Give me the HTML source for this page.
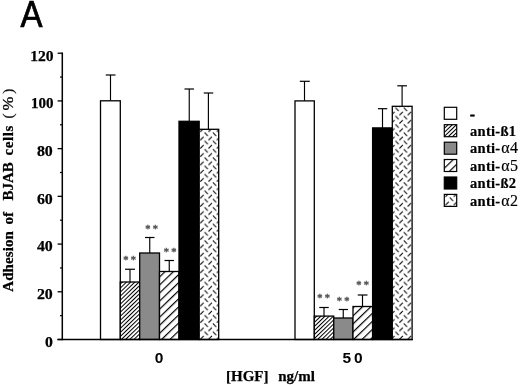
<!DOCTYPE html>
<html><head><meta charset="utf-8"><title>A</title>
<style>
html,body{margin:0;padding:0;background:#fff;}
body{width:520px;height:385px;overflow:hidden;}
svg{display:block;}
.tb{font-family:"Liberation Serif","Times New Roman",serif;font-weight:bold;font-size:15px;fill:#000;stroke:#000;stroke-width:0.25px;}
.lg{font-family:"Liberation Serif","Times New Roman",serif;font-weight:bold;font-size:14.5px;fill:#000;letter-spacing:0.3px;stroke:#000;stroke-width:0.2px;}
.sb{font-family:"Liberation Sans",Arial,sans-serif;font-weight:bold;font-size:14.5px;fill:#000;}
.sym{font-family:"Liberation Serif","Times New Roman",serif;font-weight:normal;font-size:16px;stroke-width:0.15px;}
.st{font-family:"DejaVu Sans",sans-serif;font-weight:bold;font-size:9px;fill:#585858;stroke:#585858;stroke-width:0.45px;letter-spacing:2.9px;}
</style></head><body>
<svg width="520" height="385" viewBox="0 0 520 385">
<defs>
<pattern id="h1" patternUnits="userSpaceOnUse" width="2.9" height="2.9" patternTransform="translate(119.95,287.74) rotate(-44)">
<rect x="0" y="0" width="2.9" height="1.0" fill="#000"/></pattern>
<pattern id="h2" patternUnits="userSpaceOnUse" width="5.8" height="5.8" patternTransform="translate(159.08,292.67) rotate(-44)">
<rect x="0" y="0" width="5.8" height="1.2" fill="#000"/></pattern>
<pattern id="h2l" patternUnits="userSpaceOnUse" width="5.8" height="5.8" patternTransform="translate(444.38,167.27) rotate(-44)">
<rect x="0" y="0" width="5.8" height="1.2" fill="#000"/></pattern>
<pattern id="dp" patternUnits="userSpaceOnUse" width="8.3" height="8.3" x="200" y="132.2">
<path d="M4.55 0.45 L7.85 3.75 M0.35 7.85 L3.65 4.55" stroke="#000" stroke-width="1.0" fill="none"/></pattern>
<pattern id="dp2" patternUnits="userSpaceOnUse" width="8.3" height="8.3" x="445.2" y="197.2">
<path d="M4.55 0.45 L7.85 3.75 M0.35 7.85 L3.65 4.55" stroke="#000" stroke-width="1.0" fill="none"/></pattern>
</defs>
<rect width="520" height="385" fill="#fff"/>
<text x="20.4" y="26.6" textLength="22" lengthAdjust="spacingAndGlyphs" style="font-family:'Liberation Sans',Arial,sans-serif;font-size:36.5px;fill:#000;stroke:#000;stroke-width:0.7px">A</text>
<line x1="110.5" y1="75" x2="110.5" y2="100.8" stroke="#000" stroke-width="1.15"/><line x1="105.75" y1="75" x2="115.5" y2="75" stroke="#000" stroke-width="1.2"/><rect x="100.5" y="100.8" width="19.8" height="238.7" fill="#fff" stroke="#000" stroke-width="1.3"/>
<line x1="130" y1="269.25" x2="130" y2="282" stroke="#000" stroke-width="1.15"/><line x1="125" y1="269.25" x2="135" y2="269.25" stroke="#000" stroke-width="1.2"/><rect x="120.3" y="282" width="19.4" height="57.5" fill="#fff"/><rect x="120.3" y="282" width="19.4" height="57.5" fill="url(#h1)" stroke="#000" stroke-width="1.3"/>
<line x1="149.75" y1="237.5" x2="149.75" y2="253" stroke="#000" stroke-width="1.15"/><line x1="145" y1="237.5" x2="154.5" y2="237.5" stroke="#000" stroke-width="1.2"/><rect x="139.7" y="253" width="19.8" height="86.5" fill="#8a8a8a" stroke="#000" stroke-width="1.3"/>
<line x1="169.25" y1="260.5" x2="169.25" y2="271.5" stroke="#000" stroke-width="1.15"/><line x1="164.5" y1="260.5" x2="174" y2="260.5" stroke="#000" stroke-width="1.2"/><rect x="159.5" y="271.5" width="19.5" height="68" fill="#fff"/><rect x="159.5" y="271.5" width="19.5" height="68" fill="url(#h2)" stroke="#000" stroke-width="1.3"/>
<line x1="189.25" y1="89" x2="189.25" y2="121.3" stroke="#000" stroke-width="1.15"/><line x1="184.5" y1="89" x2="194" y2="89" stroke="#000" stroke-width="1.2"/><rect x="179" y="121.3" width="20.2" height="218.2" fill="#000" stroke="#000" stroke-width="1.3"/>
<line x1="208.4" y1="93" x2="208.4" y2="129.3" stroke="#000" stroke-width="1.15"/><line x1="203.75" y1="93" x2="213.25" y2="93" stroke="#000" stroke-width="1.2"/><rect x="199.2" y="129.3" width="19.5" height="210.2" fill="#fff"/><rect x="199.2" y="129.3" width="19.5" height="210.2" fill="url(#dp)" stroke="#000" stroke-width="1.3"/>
<line x1="304.5" y1="81.3" x2="304.5" y2="100.9" stroke="#000" stroke-width="1.15"/><line x1="299.8" y1="81.3" x2="309.8" y2="81.3" stroke="#000" stroke-width="1.2"/><rect x="295" y="100.9" width="19.3" height="238.6" fill="#fff" stroke="#000" stroke-width="1.3"/>
<line x1="324" y1="307.5" x2="324" y2="316.1" stroke="#000" stroke-width="1.15"/><line x1="319.25" y1="307.5" x2="328.75" y2="307.5" stroke="#000" stroke-width="1.2"/><rect x="314.3" y="316.1" width="19.45" height="23.4" fill="#fff"/><rect x="314.3" y="316.1" width="19.45" height="23.4" fill="url(#h1)" stroke="#000" stroke-width="1.3"/>
<line x1="343.25" y1="309.5" x2="343.25" y2="318" stroke="#000" stroke-width="1.15"/><line x1="338.75" y1="309.5" x2="348" y2="309.5" stroke="#000" stroke-width="1.2"/><rect x="333.75" y="318" width="19.25" height="21.5" fill="#8a8a8a" stroke="#000" stroke-width="1.3"/>
<line x1="362.5" y1="295" x2="362.5" y2="306.5" stroke="#000" stroke-width="1.15"/><line x1="357.75" y1="295" x2="367.5" y2="295" stroke="#000" stroke-width="1.2"/><rect x="353" y="306.5" width="19.6" height="33" fill="#fff"/><rect x="353" y="306.5" width="19.6" height="33" fill="url(#h2)" stroke="#000" stroke-width="1.3"/>
<line x1="382.5" y1="108.7" x2="382.5" y2="127.9" stroke="#000" stroke-width="1.15"/><line x1="377.9" y1="108.7" x2="387.3" y2="108.7" stroke="#000" stroke-width="1.2"/><rect x="372.6" y="127.9" width="19.7" height="211.6" fill="#000" stroke="#000" stroke-width="1.3"/>
<line x1="402.1" y1="85.8" x2="402.1" y2="106.3" stroke="#000" stroke-width="1.15"/><line x1="397.3" y1="85.8" x2="407" y2="85.8" stroke="#000" stroke-width="1.2"/><rect x="392.3" y="106.3" width="19.8" height="233.2" fill="#fff"/><rect x="392.3" y="106.3" width="19.8" height="233.2" fill="url(#dp)" stroke="#000" stroke-width="1.3"/>
<line x1="62.3" y1="52.5" x2="62.3" y2="340.3" stroke="#000" stroke-width="1.5"/><line x1="57.4" y1="339.5" x2="412.8" y2="339.5" stroke="#000" stroke-width="1.6"/><line x1="57.6" y1="53.2" x2="62.3" y2="53.2" stroke="#000" stroke-width="1.3"/><text class="tb" x="30.2" y="60.5" textLength="23.4" lengthAdjust="spacingAndGlyphs">120</text><line x1="60" y1="77.06" x2="62.3" y2="77.06" stroke="#000" stroke-width="1.2"/><line x1="57.6" y1="100.92" x2="62.3" y2="100.92" stroke="#000" stroke-width="1.3"/><text class="tb" x="31.1" y="108.22" textLength="22.5" lengthAdjust="spacingAndGlyphs">100</text><line x1="60" y1="124.78" x2="62.3" y2="124.78" stroke="#000" stroke-width="1.2"/><line x1="57.6" y1="148.63" x2="62.3" y2="148.63" stroke="#000" stroke-width="1.3"/><text class="tb" x="36.9" y="155.93" textLength="15.9" lengthAdjust="spacingAndGlyphs">80</text><line x1="60" y1="172.49" x2="62.3" y2="172.49" stroke="#000" stroke-width="1.2"/><line x1="57.6" y1="196.35" x2="62.3" y2="196.35" stroke="#000" stroke-width="1.3"/><text class="tb" x="36.9" y="203.65" textLength="15.9" lengthAdjust="spacingAndGlyphs">60</text><line x1="60" y1="220.21" x2="62.3" y2="220.21" stroke="#000" stroke-width="1.2"/><line x1="57.6" y1="244.07" x2="62.3" y2="244.07" stroke="#000" stroke-width="1.3"/><text class="tb" x="36.9" y="251.37" textLength="15.9" lengthAdjust="spacingAndGlyphs">40</text><line x1="60" y1="267.93" x2="62.3" y2="267.93" stroke="#000" stroke-width="1.2"/><line x1="57.6" y1="291.78" x2="62.3" y2="291.78" stroke="#000" stroke-width="1.3"/><text class="tb" x="36.9" y="299.08" textLength="15.9" lengthAdjust="spacingAndGlyphs">20</text><line x1="60" y1="315.64" x2="62.3" y2="315.64" stroke="#000" stroke-width="1.2"/><line x1="57.6" y1="339.5" x2="62.3" y2="339.5" stroke="#000" stroke-width="1.3"/><text class="tb" x="44.92" y="346.8" textLength="7.88" lengthAdjust="spacingAndGlyphs">0</text>
<text class="st" x="123.4" y="262.8">**</text><text class="st" x="145.4" y="232.4">**</text><text class="st" x="163.9" y="255.1">**</text><text class="st" x="317.5" y="300.7">**</text><text class="st" x="336.9" y="303.7">**</text><text class="st" x="356.5" y="288.2">**</text>
<text class="sb" x="154.8" y="363.2" style="font-size:15.5px">0</text><text class="sb" x="342.6" y="363.2" style="font-size:15.5px;letter-spacing:2.9px">50</text><text class="tb" y="380.9"><tspan x="226">[HGF] </tspan><tspan x="278.2">ng/ml</tspan></text><text class="tb" transform="translate(13.1,291.8) rotate(-90)"><tspan x="0" style="letter-spacing:0.1px">Adhesion </tspan><tspan x="67.3">of </tspan><tspan x="91.3">BJAB </tspan><tspan x="136.3" style="letter-spacing:0.6px">cells </tspan><tspan x="173.3" style="font-weight:normal">(</tspan><tspan x="181.2" style="font-size:13.6px;font-weight:normal" textLength="13.8" lengthAdjust="spacingAndGlyphs">%</tspan><tspan x="198" style="font-weight:normal">)</tspan></text>
<rect x="444.3" y="107.3" width="12.4" height="12" fill="#fff" stroke="#000" stroke-width="1.2"/><text class="lg" x="470" y="118.5"><tspan style="stroke-width:0.7px">-</tspan></text>
<rect x="444.3" y="124.7" width="12.4" height="12" fill="#fff"/><rect x="444.3" y="124.7" width="12.4" height="12" fill="url(#h1)" stroke="#000" stroke-width="1.2"/><text class="lg" x="470" y="135.9">anti-ß1</text>
<rect x="444.3" y="142.2" width="12.4" height="12" fill="#8a8a8a" stroke="#000" stroke-width="1.2"/><text class="lg" x="470" y="153.4">anti-<tspan class="sym" dx="0.8">α4</tspan></text>
<rect x="444.3" y="159.5" width="12.4" height="12" fill="#fff"/><rect x="444.3" y="159.5" width="12.4" height="12" fill="url(#h2l)" stroke="#000" stroke-width="1.2"/><text class="lg" x="470" y="170.7">anti-<tspan class="sym" dx="0.8">α5</tspan></text>
<rect x="444.3" y="177" width="12.4" height="12" fill="#000" stroke="#000" stroke-width="1.2"/><text class="lg" x="470" y="188.2">anti-ß2</text>
<rect x="444.3" y="194.4" width="12.4" height="12" fill="#fff"/><rect x="444.3" y="194.4" width="12.4" height="12" fill="url(#dp2)" stroke="#000" stroke-width="1.2"/><text class="lg" x="470" y="205.6">anti-<tspan class="sym" dx="0.8">α2</tspan></text>
</svg>
</body></html>
